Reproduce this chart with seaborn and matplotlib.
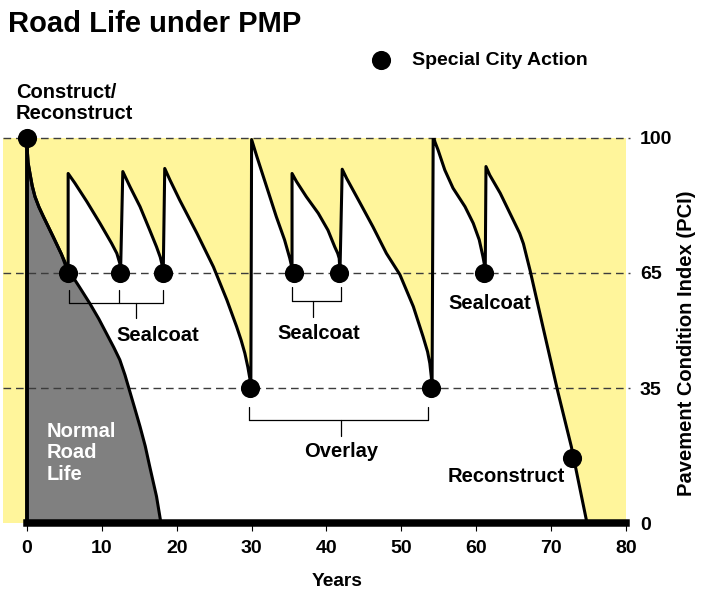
"""
Road Life under PMP - pavement condition over the years with and without maintenance.
"""

import numpy as np
import pandas as pd
import matplotlib
matplotlib.use("Agg")
import matplotlib.pyplot as plt
import seaborn as sns

# ── Data ────────────────────────────────────────────────────────────────────
# road life with the Pavement Management Program (sealcoats, overlays)
pmp_years = [0, 0.04, 0.15, 0.4, 0.7, 1.07, 1.6, 2.2, 3.5, 4.6, 5.5,
             5.5, 6.4, 8.0, 9.75, 11.3, 12.0, 12.4, 12.5,
             12.8, 13.75, 15.1, 16.4, 17.3, 17.8, 18.0, 18.2,
             18.4, 19.1, 20.4, 22.7, 24.9, 26.7, 28.0, 28.6, 29.1, 29.5, 29.8, 29.9,
             30.0, 30.7, 32.0, 33.3, 34.4, 35.1, 35.3, 35.4,
             35.4, 36.0, 37.3, 38.9, 40.2, 41.1, 41.5, 41.7, 41.8,
             42.1, 42.7, 44.5, 46.2, 48.0, 49.8, 51.6, 52.9, 53.5, 53.8, 54.0, 54.1,
             54.25, 54.5, 54.9, 55.8, 56.9, 58.5, 59.6, 60.4, 60.9, 61.1, 61.2,
             61.3, 61.8, 63.2, 64.5, 65.8, 66.3, 66.8, 67.2, 68.9, 70.9, 72.7, 74.8]
pmp_pci = [100, 96.8, 93.5, 90.7, 87.5, 84.7, 82.0, 79.5, 74.3, 69.8, 65,
           90.7, 88.2, 83.4, 77.8, 72.6, 70.0, 67.4, 65,
           91.2, 87.3, 82.1, 76.0, 71.7, 69.0, 67.4, 65,
           92.0, 89.0, 83.8, 75.2, 66.5, 57.9, 51.0, 47.5, 44.1, 40.5, 37.2, 35,
           99.5, 95.1, 87.3, 79.5, 73.5, 68.7, 67.0, 65,
           90.7, 88.6, 84.7, 80.4, 76.0, 71.7, 70.0, 68.7, 65,
           91.8, 89.4, 83.0, 76.9, 70.0, 64.5, 56.2, 48.4, 44.5, 41.5, 38.0, 35,
           100.5, 98.8, 96.8, 91.6, 86.9, 82.1, 77.8, 73.5, 69.1, 67.0, 65,
           92.5, 90.3, 85.6, 80.4, 75.2, 72.5, 68.6, 65.5, 51.0, 34.1, 19.9, 0]

# normal road life without maintenance
normal_years = [0, 0.04, 0.15, 0.4, 0.7, 1.07, 1.6, 2.2, 3.5, 4.6, 5.6, 7.0, 8.4,
                9.6, 10.6, 11.6, 12.4, 13.1, 13.75, 14.4, 15.1, 15.8, 16.4, 17.3, 17.9]
normal_pci = [100, 96.8, 93.5, 90.7, 87.5, 84.7, 82.0, 79.5, 74.3, 69.8, 65.5, 61.3, 57.0,
              53.0, 49.3, 45.6, 42.4, 38.4, 34.1, 29.8, 25.1, 20.0, 14.7, 7.0, 0]

# special city actions
action_years = [0, 5.5, 12.4, 18.2, 29.8, 35.6, 41.7, 54.0, 61.1, 72.85]
action_pci = [100, 65, 65, 65, 35, 65, 65, 35, 65, 17]

pci_levels = [100, 65, 35]
pci_ticks = [0, 35, 65, 100]
year_ticks = [0, 10, 20, 30, 40, 50, 60, 70, 80]

# bracket groups: (tick years, stem year)
sealcoat_groups = [([5.6, 12.3, 18.2], 14.55), ([35.4, 41.9], 38.2)]
overlay_group = ([29.7, 53.6], 41.9)

YELLOW = "#FFF59B"
GREY = "#808080"

sns.set_theme(style="white")
plt.rcParams["font.family"] = ["Liberation Sans", "DejaVu Sans"]
plt.rcParams["font.weight"] = "bold"
plt.rcParams["text.color"] = "black"
plt.rcParams["axes.labelcolor"] = "black"
plt.rcParams["xtick.color"] = "black"
plt.rcParams["ytick.color"] = "black"

W, H = 712, 592
fig = plt.figure(figsize=(W / 100, H / 100), dpi=100)
fig.patch.set_facecolor("white")
ax = fig.add_axes([3 / W, 68.6 / H, 623 / W, 385.8 / H])
ax.set_facecolor(YELLOW)
ax.set_xlim(-3.2, 80)
ax.set_ylim(0, 100)

df = pd.DataFrame({"year": pmp_years, "pci": pmp_pci})
nf = pd.DataFrame({"year": normal_years, "pci": normal_pci})
acts = pd.DataFrame({"year": action_years, "pci": action_pci})

# fills
ax.fill_between(df["year"], df["pci"], 0, color="white", lw=0, zorder=1)
ax.fill_between(nf["year"], nf["pci"], 0, color=GREY, lw=0, zorder=2)

# reference levels
ax.hlines(pci_levels, -3.2, 80.5, colors="#3c3c3c", lw=1.0,
          linestyles=(0, (5.5, 3.5)), zorder=3, clip_on=False)

# curves
line_kw = dict(sort=False, color="black", lw=2.2, estimator=None,
               solid_joinstyle="round", solid_capstyle="round")
sns.lineplot(data=nf, x="year", y="pci", ax=ax, zorder=4, **line_kw)
sns.lineplot(data=df, x="year", y="pci", ax=ax, zorder=4, **line_kw)
sns.scatterplot(data=acts, x="year", y="pci", color="black", s=190,
                edgecolor="black", linewidth=0, ax=ax, zorder=5, clip_on=False,
                label="Special City Action")

# brackets
def draw_bracket(ticks, stem, y_top, y_bar, y_stem):
    for t in ticks:
        ax.plot([t, t], [y_top, y_bar], color="black", lw=0.9, zorder=4)
    ax.plot([ticks[0], ticks[-1]], [y_bar, y_bar], color="black", lw=0.9, zorder=4)
    ax.plot([stem, stem], [y_bar, y_stem], color="black", lw=0.9, zorder=4)

draw_bracket(*sealcoat_groups[0], 60.5, 57.0, 53.2)
draw_bracket(*sealcoat_groups[1], 61.4, 57.6, 53.6)
draw_bracket(*overlay_group, 30.3, 26.8, 22.7)

# labels
fs = 14.5
ax.text(17.5, 48.8, "Sealcoat", ha="center", va="center", fontsize=fs, zorder=6)
ax.text(38.9, 49.3, "Sealcoat", ha="center", va="center", fontsize=fs, zorder=6)
ax.text(61.8, 57.1, "Sealcoat", ha="center", va="center", fontsize=fs, zorder=6)
ax.text(41.9, 18.6, "Overlay", ha="center", va="center", fontsize=fs, zorder=6)
ax.text(64.0, 12.1, "Reconstruct", ha="center", va="center", fontsize=fs, zorder=6)
ax.text(2.6, 18.3, "Normal\nRoad\nLife", ha="left", va="center", fontsize=fs,
        color="white", linespacing=1.15, zorder=6)
ax.text(-1.47, 108.9, "Construct/\nReconstruct", ha="left", va="center",
        fontsize=fs, linespacing=1.15, clip_on=False, zorder=6)

# axes styling
for side in ["top", "right"]:
    ax.spines[side].set_visible(False)
ax.spines["bottom"].set_bounds(0, 80)
ax.spines["bottom"].set_linewidth(5.4)
ax.spines["bottom"].set_color("black")
ax.spines["bottom"].set_zorder(7)
ax.spines["left"].set_position(("data", 0))
ax.spines["left"].set_bounds(0, 100)
ax.spines["left"].set_linewidth(2.8)
ax.spines["left"].set_color("black")
ax.spines["left"].set_zorder(7)

ax.set_xticks(year_ticks)
ax.set_xticklabels([str(v) for v in year_ticks])
ax.tick_params(axis="x", bottom=True, direction="out", length=6, width=0.8,
               color="black", pad=6, labelsize=14, labelcolor="black")
ax.yaxis.tick_right()
ax.set_yticks(pci_ticks)
ax.set_yticklabels([str(v) for v in pci_ticks])
ax.tick_params(axis="y", right=True, left=False, length=0, pad=10, labelsize=14,
               labelcolor="black")
for lab in ax.get_xticklabels() + ax.get_yticklabels():
    lab.set_fontweight("bold")
ax.set_xlabel("")
ax.set_ylabel("")

fig.text(337.5 / W, 1 - 582 / H, "Years", ha="center", va="center",
         fontsize=13.8, fontweight="bold")
fig.text(687 / W, 1 - 343 / H, "Pavement Condition Index (PCI)", rotation=90,
         ha="center", va="center", fontsize=14.5, fontweight="bold")
fig.text(8 / W, 1 - 32 / H, "Road Life under PMP", ha="left", va="baseline",
         fontsize=21, fontweight="bold")

leg = ax.legend(loc="center left", bbox_to_anchor=(371.3 / W, 1 - 60 / H),
                bbox_transform=fig.transFigure, frameon=False, fontsize=14,
                handlelength=1.0, handletextpad=1.1, borderpad=0, borderaxespad=0)
for t in leg.get_texts():
    t.set_fontweight("bold")
    t.set_color("black")

fig.savefig("out.png", dpi=100)
